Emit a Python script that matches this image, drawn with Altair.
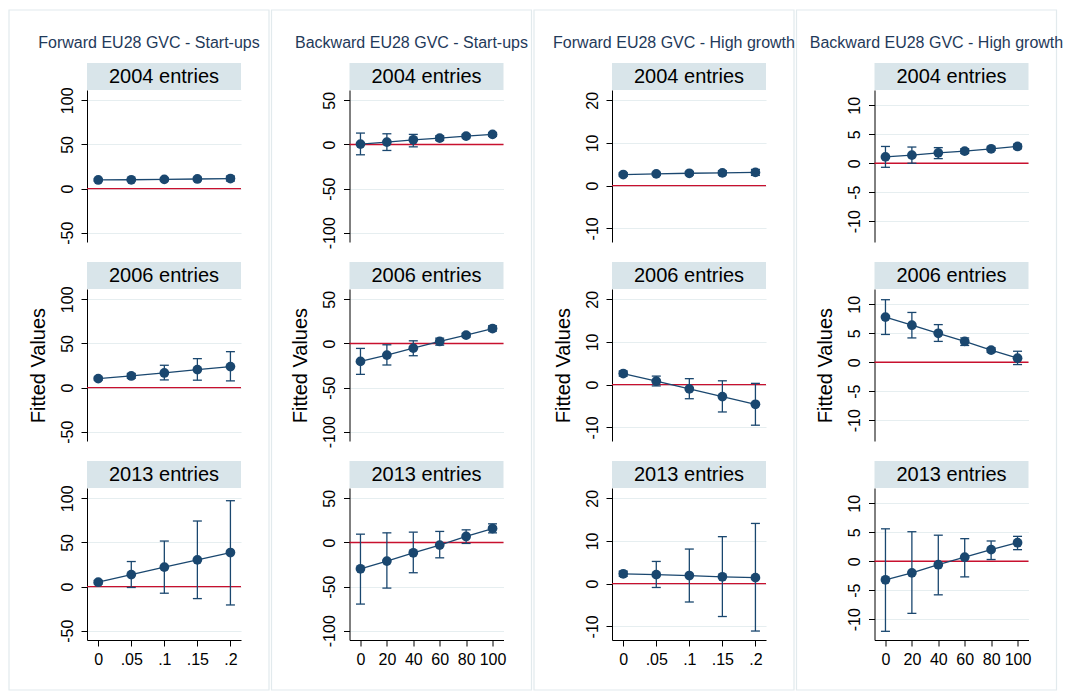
import altair as alt
import pandas as pd

FONT = "Liberation Sans"
NAVY = "#1a476f"
RED = "#c8102e"
GRID = "#e6eef0"
STRIP = "#d9e5ea"
BOX = "#e2eaed"
TITLE_C = "#1f3a5a"

col_titles = [
    "Forward EU28 GVC - Start-ups",
    "Backward EU28 GVC - Start-ups",
    "Forward EU28 GVC - High growth",
    "Backward EU28 GVC - High growth",
]
row_labels = ["2004 entries", "2006 entries", "2013 entries"]

x_share = [0, 0.05, 0.10, 0.15, 0.20]
x_pct = [0, 20, 40, 60, 80, 100]

# Forward EU28 GVC - Start-ups
fs04_y = [9.8, 10.0, 10.4, 10.9, 11.4]
fs04_lo = [8.6, 8.9, 9.0, 9.0, 8.6]
fs04_hi = [11.0, 11.1, 11.8, 12.8, 14.2]
fs06_y = [10.2, 13.2, 16.6, 20.4, 23.8]
fs06_lo = [8.5, 10.5, 8.7, 8.4, 7.6]
fs06_hi = [11.9, 16.0, 25.3, 32.8, 40.7]
fs13_y = [5.0, 13.6, 22.0, 30.3, 38.6]
fs13_lo = [3.0, -1.0, -7.5, -13.6, -20.8]
fs13_hi = [7.0, 28.4, 51.6, 74.3, 97.3]

# Backward EU28 GVC - Start-ups
bs04_y = [0.4, 2.7, 5.3, 7.2, 9.5, 11.4]
bs04_lo = [-11.7, -6.8, -2.7, 4.5, 7.5, 9.3]
bs04_hi = [12.9, 12.1, 11.4, 9.8, 11.4, 13.5]
bs06_y = [-20.3, -13.2, -5.3, 2.3, 9.4, 16.9]
bs06_lo = [-35.0, -24.4, -13.9, -1.9, 7.2, 14.0]
bs06_hi = [-5.6, -1.5, 3.0, 6.0, 11.6, 20.0]
bs13_y = [-29.8, -21.1, -11.7, -3.0, 6.8, 15.8]
bs13_lo = [-69.8, -51.7, -34.3, -17.4, -1.1, 10.9]
bs13_hi = [9.4, 10.9, 11.7, 12.5, 14.3, 21.1]

# Forward EU28 GVC - High growth
fh04_y = [2.6, 2.75, 2.9, 3.0, 3.1]
fh04_lo = [2.2, 2.4, 2.5, 2.5, 2.4]
fh04_hi = [3.0, 3.1, 3.3, 3.5, 3.8]
fh06_y = [2.6, 0.8, -1.0, -2.8, -4.6]
fh06_lo = [2.0, -0.3, -3.3, -6.4, -9.5]
fh06_hi = [3.2, 2.0, 1.4, 0.9, 0.3]
fh13_y = [2.3, 2.1, 1.9, 1.6, 1.4]
fh13_lo = [1.7, -0.9, -4.3, -7.7, -11.1]
fh13_hi = [2.9, 5.2, 8.1, 11.0, 14.1]

# Backward EU28 GVC - High growth
bh04_y = [1.1, 1.4, 1.8, 2.1, 2.5, 2.9]
bh04_lo = [-0.7, 0.0, 0.8, 1.7, 2.2, 2.5]
bh04_hi = [2.9, 2.8, 2.7, 2.5, 2.8, 3.3]
bh06_y = [7.8, 6.4, 5.0, 3.6, 2.1, 0.7]
bh06_lo = [4.8, 4.2, 3.6, 2.9, 1.7, -0.4]
bh06_hi = [10.8, 8.6, 6.5, 4.2, 2.5, 1.9]
bh13_y = [-3.2, -2.0, -0.6, 0.7, 2.0, 3.2]
bh13_lo = [-12.1, -9.0, -5.8, -2.7, 0.3, 2.0]
bh13_hi = [5.6, 5.1, 4.5, 3.9, 3.5, 4.3]

y_ticks = [[-50, 0, 50, 100], [-100, -50, 0, 50], [-10, 0, 10, 20], [-10, -5, 0, 5, 10]]
y_domains = [[-60.5, 111.7], [-110.5, 61.7], [-13.2, 22.4], [-13.6, 12.65]]
x_domains = [[-0.017, 0.216], [-8.3, 108.3], [-0.017, 0.216], [-8.3, 108.3]]
x_values = [x_share, x_pct, x_share, x_pct]
x_label_expr = [
    "datum.value == 0 ? '0' : slice(format(datum.value, '.2~f'), 1)",
    "datum.value + ''",
    "datum.value == 0 ? '0' : slice(format(datum.value, '.2~f'), 1)",
    "datum.value + ''",
]

series = [
    [(fs04_y, fs04_lo, fs04_hi), (fs06_y, fs06_lo, fs06_hi), (fs13_y, fs13_lo, fs13_hi)],
    [(bs04_y, bs04_lo, bs04_hi), (bs06_y, bs06_lo, bs06_hi), (bs13_y, bs13_lo, bs13_hi)],
    [(fh04_y, fh04_lo, fh04_hi), (fh06_y, fh06_lo, fh06_hi), (fh13_y, fh13_lo, fh13_hi)],
    [(bh04_y, bh04_lo, bh04_hi), (bh06_y, bh06_lo, bh06_hi), (bh13_y, bh13_lo, bh13_hi)],
]

W, H = 154, 152


def panel(ci, ri):
    yv, lo, hi = series[ci][ri]
    df = pd.DataFrame({"x": x_values[ci], "y": yv, "lo": lo, "hi": hi})
    xscale = alt.Scale(domain=x_domains[ci], nice=False, zero=False)
    yscale = alt.Scale(domain=y_domains[ci], nice=False, zero=False)
    if ri == 2:
        xaxis = alt.Axis(values=x_values[ci], labelExpr=x_label_expr[ci], grid=False,
                         title=None, domainColor="#000", tickColor="#000", tickSize=6,
                         labelFont=FONT, labelFontSize=16, labelColor="#000",
                         labelPadding=5, labelFlush=False, labelOverlap=False)
    else:
        xaxis = None
    yaxis = alt.Axis(values=y_ticks[ci], labelExpr="datum.value + ''", grid=True,
                     gridColor=GRID, gridWidth=1.2, title="Fitted Values",
                     titleOpacity=1 if ri == 1 else 0, titleFont=FONT, titleFontSize=20,
                     titleFontWeight="normal", titleColor="#000", titlePadding=11,
                     domainColor="#000", tickColor="#000", tickSize=6,
                     labelFont=FONT, labelFontSize=16, labelColor="#000",
                     labelAngle=270, labelAlign="center", labelBaseline="bottom",
                     labelPadding=6, labelFlush=False, labelOverlap=False)

    X = alt.X("x:Q", scale=xscale, axis=xaxis)
    base = alt.Chart(df)

    zero = alt.Chart(pd.DataFrame({"ref": [0]})).mark_rule(color=RED, strokeWidth=1.4).encode(
        y=alt.Y("ref:Q", scale=yscale, axis=yaxis))
    bars = base.mark_rule(color=NAVY, strokeWidth=1.3).encode(
        x=X, y=alt.Y("lo:Q", scale=yscale, axis=yaxis), y2="hi:Q")
    cap_lo = base.mark_tick(orient="horizontal", color=NAVY, size=9, thickness=1.3, opacity=1).encode(
        x=X, y=alt.Y("lo:Q", scale=yscale, axis=yaxis))
    cap_hi = base.mark_tick(orient="horizontal", color=NAVY, size=9, thickness=1.3, opacity=1).encode(
        x=X, y=alt.Y("hi:Q", scale=yscale, axis=yaxis))
    line = base.mark_line(color=NAVY, strokeWidth=1.3).encode(
        x=X, y=alt.Y("y:Q", scale=yscale, axis=yaxis))
    pts = base.mark_circle(color=NAVY, size=95, opacity=1).encode(
        x=X, y=alt.Y("y:Q", scale=yscale, axis=yaxis))

    hdr = pd.DataFrame({"label": [row_labels[ri]]})
    strip = alt.Chart(hdr).mark_rect(color=STRIP).encode(
        x=alt.value(0), x2=alt.value(W), y=alt.value(-27), y2=alt.value(0))
    strip_txt = alt.Chart(hdr).mark_text(font=FONT, fontSize=20, color="#000",
                                         baseline="middle", align="center").encode(
        text="label:N", x=alt.value(W / 2), y=alt.value(-13))

    layers = []
    if ri == 0:
        tdf = pd.DataFrame({"title": [col_titles[ci]]})
        box = alt.Chart(tdf).mark_rect(fillOpacity=0, stroke=BOX, strokeWidth=1.2).encode(
            x=alt.value(-78), x2=alt.value(W + 28), y=alt.value(-80), y2=alt.value(600))
        ttl = alt.Chart(tdf).mark_text(font=FONT, fontSize=16, color=TITLE_C,
                                       baseline="middle", align="center").encode(
            text="title:N", x=alt.value(62), y=alt.value(-47))
        layers += [box, ttl]
    layers += [strip, strip_txt, zero, bars, cap_lo, cap_hi, line, pts]
    return alt.layer(*layers).properties(width=W, height=H)


columns = []
for ci in range(4):
    columns.append(alt.vconcat(*[panel(ci, ri) for ri in range(3)], spacing=47, bounds="flush"))

# in flush mode the nested columns report no width, so the stride is the spacing
chart = alt.hconcat(*columns, spacing=W + 108.5, bounds="flush").resolve_scale(
    x="independent", y="independent"
).properties(
    padding={"left": 8, "top": 9, "right": 0, "bottom": 0},
    background="white",
).configure_view(strokeWidth=0)

chart.save("out.html", embed_options={"renderer": "svg", "actions": False})
